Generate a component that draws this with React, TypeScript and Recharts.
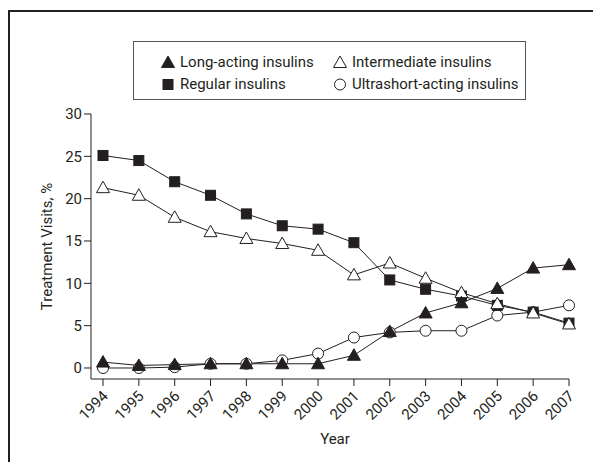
import React from "react";
import { LineChart, Line, XAxis, YAxis } from "recharts";

const years = ["1994", "1995", "1996", "1997", "1998", "1999", "2000", "2001", "2002", "2003", "2004", "2005", "2006", "2007"];
const longActing = [0.7, 0.3, 0.4, 0.5, 0.5, 0.5, 0.5, 1.5, 4.3, 6.5, 7.7, 9.4, 11.8, 12.2];
const intermediate = [21.3, 20.4, 17.8, 16.1, 15.3, 14.7, 13.9, 11.0, 12.4, 10.6, 8.9, 7.6, 6.5, 5.2];
const regular = [25.1, 24.5, 22.0, 20.4, 18.2, 16.8, 16.4, 14.8, 10.4, 9.3, 8.5, 7.4, 6.6, 5.3];
const ultrashort = [0.0, 0.0, 0.1, 0.5, 0.5, 0.9, 1.7, 3.6, 4.2, 4.4, 4.4, 6.2, 6.6, 7.4];
const yTicks = [0, 5, 10, 15, 20, 25, 30];

const data = years.map((y, i) => ({
  year: y,
  longActing: longActing[i],
  intermediate: intermediate[i],
  regular: regular[i],
  ultrashort: ultrashort[i],
}));

const FONT = 'Roboto, "Liberation Sans", sans-serif';
const INK = "#231f20";

type Kind = "triFill" | "triOpen" | "square" | "circle";

function Marker({ kind, cx, cy }: { kind: Kind; cx: number; cy: number }) {
  if (kind === "square") {
    return <rect x={cx - 5} y={cy - 5} width={10} height={10} fill={INK} stroke={INK} />;
  }
  if (kind === "circle") {
    return <circle cx={cx} cy={cy} r={5.5} fill="#fff" stroke={INK} strokeWidth={1} />;
  }
  const pts = `${cx},${cy - 6.5} ${cx + 6.5},${cy + 5} ${cx - 6.5},${cy + 5}`;
  return (
    <polygon
      points={pts}
      fill={kind === "triFill" ? INK : "#fff"}
      stroke={INK}
      strokeWidth={1}
    />
  );
}

const dotFor = (kind: Kind) => (p: any) => <Marker key={`${kind}-${p.index}`} kind={kind} cx={p.cx} cy={p.cy} />;

const legendItems: { kind: Kind; label: string }[] = [
  { kind: "triFill", label: "Long-acting insulins" },
  { kind: "triOpen", label: "Intermediate insulins" },
  { kind: "square", label: "Regular insulins" },
  { kind: "circle", label: "Ultrashort-acting insulins" },
];

function LegendBox() {
  return (
    <div
      style={{
        position: "absolute",
        left: 125,
        top: 33,
        width: 393,
        height: 59,
        border: "1px solid #555",
        display: "grid",
        gridTemplateColumns: "172px 190px",
        gridTemplateRows: "22px 22px",
        padding: "9px 0 0 27px",
        boxSizing: "border-box",
        fontFamily: FONT,
        fontSize: 15,
        color: INK,
      }}
    >
      {legendItems.map((it) => (
        <div key={it.label} style={{ display: "flex", alignItems: "center", whiteSpace: "nowrap" }}>
          <svg width={14} height={16} style={{ marginRight: 5 }}>
            <Marker kind={it.kind} cx={7} cy={8.5} />
          </svg>
          <span>{it.label}</span>
        </div>
      ))}
    </div>
  );
}

function YearTick(props: any) {
  const { x, y, payload } = props;
  return (
    <text
      x={x + 6}
      y={y + 9}
      transform={`rotate(-45, ${x + 6}, ${y + 9})`}
      textAnchor="end"
      fontFamily={FONT}
      fontSize={15}
      fill={INK}
    >
      {payload.value}
    </text>
  );
}

export default function App() {
  return (
    <div style={{ position: "relative", width: 586, height: 454 }}>
      <div
        style={{
          position: "absolute",
          left: 0,
          top: 2,
          width: 586,
          height: 452,
          borderLeft: `2px solid ${INK}`,
          borderTop: `2px solid ${INK}`,
        }}
      />
      <LegendBox />
      <div style={{ position: "absolute", left: 0, top: 0 }}>
        <LineChart
          width={585}
          height={454}
          data={data}
          margin={{ top: 106, right: 24, bottom: 0, left: 0 }}
        >
          <XAxis
            dataKey="year"
            padding={{ left: 12, right: 0 }}
            height={83}
            stroke={INK}
            tickSize={7}
            tick={<YearTick />}
            interval={0}
            label={{
              value: "Year",
              position: "insideBottom",
              offset: 18,
              dx: 5,
              style: { fontFamily: FONT, fontSize: 15, fill: INK },
            }}
          />
          <YAxis
            domain={[-1.3, 30]}
            ticks={yTicks}
            width={83}
            stroke={INK}
            tickSize={7}
            tickMargin={2}
            allowDataOverflow
            tick={{ fontFamily: FONT, fontSize: 15, fill: INK }}
            label={{
              value: "Treatment Visits, %",
              angle: -90,
              position: "insideLeft",
              offset: 39,
              style: { fontFamily: FONT, fontSize: 15, fill: INK, textAnchor: "middle" },
            }}
          />
          <Line
            dataKey="ultrashort"
            stroke={INK}
            strokeWidth={1}
            dot={dotFor("circle")}
            isAnimationActive={false}
          />
          <Line
            dataKey="regular"
            stroke={INK}
            strokeWidth={1}
            dot={dotFor("square")}
            isAnimationActive={false}
          />
          <Line
            dataKey="intermediate"
            stroke={INK}
            strokeWidth={1}
            dot={dotFor("triOpen")}
            isAnimationActive={false}
          />
          <Line
            dataKey="longActing"
            stroke={INK}
            strokeWidth={1}
            dot={dotFor("triFill")}
            isAnimationActive={false}
          />
        </LineChart>
      </div>
    </div>
  );
}
